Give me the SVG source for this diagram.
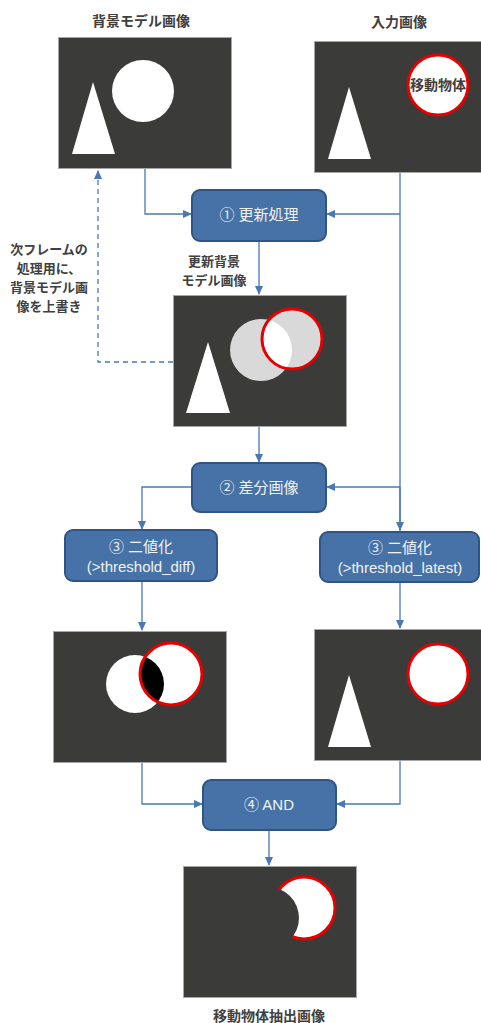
<svg xmlns="http://www.w3.org/2000/svg" width="481" height="1023" viewBox="0 0 481 1023">
<style>
.img{fill:#3b3b3a;stroke:#a6a6a6;stroke-width:1}
.w{fill:#ffffff}
.rc{stroke:#e60000;stroke-width:3}
.lbl{font-family:"Noto Sans CJK JP","Liberation Sans",sans-serif;font-weight:bold;font-size:14px;fill:#404040;text-anchor:middle}
.note{font-size:13px}
.box{fill:#4672a8;stroke:#2f5486;stroke-width:2}
.bt{font-family:"Liberation Sans","Noto Sans CJK JP",sans-serif;font-size:15px;fill:#f2f2f2;text-anchor:middle}
.ln{fill:none;stroke:#4a78b4;stroke-width:1.3}
.dash{stroke-dasharray:5,4}
</style>
<defs>
<marker id="ah" markerWidth="10" markerHeight="10" refX="8" refY="5" orient="auto" markerUnits="userSpaceOnUse">
<path d="M0,1 L9,5 L0,9 z" fill="#4a78b4"/>
</marker>
<clipPath id="cUpd"><circle cx="292" cy="339" r="30"/></clipPath>
<clipPath id="cDiff"><circle cx="171" cy="674" r="31"/></clipPath>
</defs>

<g id="connectors">
<path class="ln" d="M145,168 V214 H191" marker-end="url(#ah)"/>
<path class="ln" d="M400,172 V545" />
<path class="ln" d="M400,214 H327" marker-end="url(#ah)"/>
<path class="ln" d="M400,487 H327" marker-end="url(#ah)"/>
<path class="ln" d="M400,487 V530" marker-end="url(#ah)"/>
<path class="ln" d="M259,241 V294" marker-end="url(#ah)"/>
<path class="ln dash" d="M173,362 H98 V171" marker-end="url(#ah)"/>
<path class="ln" d="M259,427 V462" marker-end="url(#ah)"/>
<path class="ln" d="M192,487 H142 V529" marker-end="url(#ah)"/>
<path class="ln" d="M142,581 V630" marker-end="url(#ah)"/>
<path class="ln" d="M400,582 V628" marker-end="url(#ah)"/>
<path class="ln" d="M142,762 V804 H202" marker-end="url(#ah)"/>
<path class="ln" d="M400,760 V804 H337" marker-end="url(#ah)"/>
<path class="ln" d="M269,830 V865" marker-end="url(#ah)"/>
</g>

<g id="bg-model">
<text class="lbl" x="141" y="26">背景モデル画像</text>
<rect class="img" x="58.5" y="37.5" width="173" height="131"/>
<circle class="w" cx="143" cy="91" r="31"/>
<polygon class="w" points="93,82 72,154 115,154"/>
</g>

<g id="input">
<text class="lbl" x="399" y="27">入力画像</text>
<rect class="img" x="314.5" y="41.5" width="170" height="131"/>
<polygon class="w" points="349,87 328,159 371,159"/>
<circle class="w rc" cx="438" cy="85" r="30"/>
<text class="lbl" x="438" y="90" font-size="13.5">移動物体</text>
</g>

<g id="update">
<rect class="box" x="192" y="190" width="134" height="51" rx="8"/>
<text class="bt" x="259" y="220">① 更新処理</text>
</g>

<g id="note-updated">
<text class="lbl note" x="214" y="266">更新背景</text>
<text class="lbl note" x="214" y="285">モデル画像</text>
</g>

<g id="note-overwrite">
<text class="lbl note" x="49" y="254">次フレームの</text>
<text class="lbl note" x="49" y="273">処理用に、</text>
<text class="lbl note" x="49" y="292">背景モデル画</text>
<text class="lbl note" x="49" y="311">像を上書き</text>
</g>

<g id="updated-image">
<rect class="img" x="173.5" y="295.5" width="173" height="131"/>
<polygon class="w" points="208,342 186,413 230,413"/>
<circle cx="261" cy="350" r="31" fill="#d9d9d9"/>
<circle cx="292" cy="339" r="30" fill="#d9d9d9"/>
<circle cx="261" cy="350" r="31" fill="#ffffff" clip-path="url(#cUpd)"/>
<circle cx="292" cy="339" r="30" fill="none" class="rc"/>
</g>

<g id="diff">
<rect class="box" x="192" y="463" width="134" height="49" rx="8"/>
<text class="bt" x="259" y="493">② 差分画像</text>
</g>

<g id="bin-diff">
<rect class="box" x="65" y="530" width="152" height="51" rx="8"/>
<text class="bt" x="141" y="552">③ 二値化<tspan x="141" dy="20">(&gt;threshold_diff)</tspan></text>
</g>

<g id="bin-latest">
<rect class="box" x="320" y="532" width="159" height="50" rx="8"/>
<text class="bt" x="400" y="553">③ 二値化<tspan x="400" dy="20">(&gt;threshold_latest)</tspan></text>
</g>

<g id="diff-image">
<rect class="img" x="53.5" y="631.5" width="173" height="131"/>
<circle class="w" cx="135" cy="684" r="29"/>
<circle class="w" cx="171" cy="674" r="31"/>
<circle cx="135" cy="684" r="29" fill="#000000" clip-path="url(#cDiff)"/>
<circle cx="171" cy="674" r="31" fill="none" class="rc"/>
</g>

<g id="latest-image">
<rect class="img" x="314.5" y="629.5" width="170" height="131"/>
<polygon class="w" points="349,675 328,747 371,747"/>
<circle class="w rc" cx="438" cy="674" r="30"/>
</g>

<g id="and">
<rect class="box" x="203" y="780" width="133" height="50" rx="8"/>
<text class="bt" x="269" y="810">④ AND</text>
</g>

<g id="result">
<rect class="img" x="183.5" y="866.5" width="173" height="131"/>
<circle class="w rc" cx="304" cy="908" r="31"/>
<circle cx="268" cy="918" r="31" fill="#3b3b3a"/>
<text class="lbl" x="269" y="1021">移動物体抽出画像</text>
</g>
</svg>
